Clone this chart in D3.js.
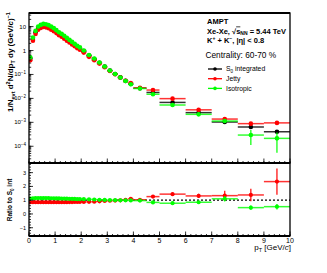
<!DOCTYPE html>
<html><head><meta charset="utf-8">
<script src="https://cdn.jsdelivr.net/npm/d3@7"></script>
<style>body{margin:0;background:#fff} svg{display:block} text{font-family:"Liberation Sans",Arial,sans-serif}</style>
</head><body><svg id="c" width="327" height="273"></svg>
<script>
// ---- data ----
const binEdges = [0,0.1,0.2,0.3,0.4,0.5,0.6,0.7,0.8,0.9,1.0,1.1,1.2,1.3,1.4,1.5,1.6,1.7,1.8,1.9,2.0,2.2,2.4,2.6,2.8,3.0,3.2,3.4,3.6,3.8,4.0,4.5,5,6,7,8,9,10];
const s0Integrated = [0.464,3.04,5.74,8.70,10.26,11.3,10.96,10.0,8.77,7.54,6.28,5.13,4.42,3.66,3.04,2.53,2.08,1.73,1.44,1.25,0.944,0.618,0.445,0.309,0.212,0.1455,0.105,0.0756,0.0539,0.0397,0.0267,0.01774,0.00679,0.00254,0.00103,0.000639,0.000404];
const jetty = [0.395,2.59,4.88,7.40,8.72,9.61,9.31,8.50,7.46,6.41,5.34,4.36,3.76,3.11,2.58,2.17,1.79,1.51,1.25,1.09,0.821,0.544,0.396,0.284,0.199,0.140,0.102,0.0748,0.0550,0.0437,0.0275,0.02235,0.00978,0.00333,0.00137,0.000882,0.000949];
const isotropic = [0.52,3.47,6.6,10.0,11.8,13.0,12.6,11.5,10.0,8.6,7.1,5.8,4.95,4.1,3.37,2.78,2.29,1.89,1.56,1.35,1.01,0.655,0.467,0.318,0.216,0.147,0.105,0.0748,0.0534,0.0389,0.0259,0.0149,0.0053,0.00216,0.00113,0.000294,0.000214];
const errS0 = [0,0,0,0,0,0,0,0,0,0,0,0,0,0,0,0,0,0,0,0,0,0,0,0,0,0,0,0,0,0,0.0005,0.0004,0.0004,0.0002,0.00012,0.0001,0.00008];
const errJetty = [0,0,0,0,0,0,0,0,0,0,0,0,0,0,0,0,0,0,0,0,0,0,0,0,0,0,0,0,0,0,0.0007,0.0008,0.0008,0.0003,0.0002,0.00013,0.00012];
const errIso = [0,0,0,0,0,0,0,0,0,0,0,0,0,0,0,0,0,0,0,0,0,0,0,0,0,0,0,0,0,0,0.0005,0.0005,0.0004,0.0002,0.0002,0.00018,0.00016];
const ratioJetty = [0.85,0.85,0.85,0.85,0.85,0.85,0.85,0.85,0.85,0.85,0.85,0.85,0.85,0.85,0.85,0.86,0.86,0.87,0.87,0.87,0.87,0.88,0.89,0.92,0.94,0.96,0.97,0.99,1.02,1.10,1.03,1.26,1.44,1.31,1.33,1.38,2.35];
const ratioIso = [1.12,1.14,1.15,1.15,1.15,1.15,1.15,1.15,1.14,1.14,1.13,1.13,1.12,1.12,1.11,1.10,1.10,1.09,1.08,1.08,1.07,1.06,1.05,1.03,1.02,1.01,1.00,0.99,0.99,0.98,0.97,0.84,0.78,0.85,1.10,0.46,0.53];
const ratioErrJetty = [0,0,0,0,0,0,0,0,0,0,0,0,0,0,0,0,0,0,0,0,0,0,0,0,0,0,0,0,0,0,0.05,0.06,0.1,0.15,0.35,0.45,0.95];
const ratioErrIso = [0,0,0,0,0,0,0,0,0,0,0,0,0,0,0,0,0,0,0,0,0,0,0,0,0,0,0,0,0,0,0.04,0.05,0.07,0.1,0.2,0.15,0.2];
const xTicks = [0,1,2,3,4,5,6,7,8,9,10];
const yTicksUpper = [1e-4,1e-3,1e-2,1e-1,1,10];
const yTicksLower = [-1,0,1,2,3];
const legendLabels = ["S0 integrated","Jetty","Isotropic"];
const colors = ["#000000","#ff0000","#00ff00"];

// ---- layout ----
const svg = d3.select("#c");
const L = 29, R = 290, T1 = 13, B1 = 163, T2 = 163, B2 = 236;
const x = d3.scaleLinear().domain([0,10]).range([L,R]);
const yU = d3.scaleLog().domain([2e-5,37]).range([B1,T1]);
const yL = d3.scaleLinear().domain([-1.6,3.7]).range([B2,T2]);

const series = [
  {v:s0Integrated, e:errS0, c:colors[0]},
  {v:jetty, e:errJetty, c:colors[1]},
  {v:isotropic, e:errIso, c:colors[2]}
];
const bins = d3.range(binEdges.length-1).map(i=>({lo:binEdges[i],hi:binEdges[i+1],mid:(binEdges[i]+binEdges[i+1])/2}));

svg.append("clipPath").attr("id","cu").append("rect").attr("x",L).attr("y",T1).attr("width",R-L).attr("height",B1-T1);
svg.append("clipPath").attr("id","cl").append("rect").attr("x",L).attr("y",T2).attr("width",R-L).attr("height",B2-T2);

const gU = svg.append("g").attr("clip-path","url(#cu)");
series.forEach(s=>{
  const g = gU.append("g");
  bins.forEach((b,i)=>{
    const yv = yU(s.v[i]);
    g.append("line").attr("x1",x(b.lo)).attr("x2",x(b.hi)).attr("y1",yv).attr("y2",yv)
      .attr("stroke",s.c).attr("stroke-width",1.5).attr("stroke-opacity",0.8);
    if (s.e[i]>0){
      const lo = Math.max(s.v[i]-s.e[i], 1e-6);
      g.append("line").attr("x1",x(b.mid)).attr("x2",x(b.mid)).attr("y1",yU(lo)).attr("y2",yU(s.v[i]+s.e[i]))
        .attr("stroke",s.c).attr("stroke-width",1.2);
    }
    g.append("circle").attr("cx",x(b.mid)).attr("cy",yv).attr("r",2.3).attr("fill",s.c);
  });
});

const gL = svg.append("g").attr("clip-path","url(#cl)");
gL.append("line").attr("x1",L).attr("x2",R).attr("y1",yL(1)).attr("y2",yL(1))
  .attr("stroke","#000").attr("stroke-width",1.3).attr("stroke-dasharray","2,2");
[{v:ratioJetty,e:ratioErrJetty,c:colors[1]},{v:ratioIso,e:ratioErrIso,c:colors[2]}].forEach(s=>{
  const g = gL.append("g");
  bins.forEach((b,i)=>{
    const yv = yL(s.v[i]);
    g.append("line").attr("x1",x(b.lo)).attr("x2",x(b.hi)).attr("y1",yv).attr("y2",yv)
      .attr("stroke",s.c).attr("stroke-width",1.5).attr("stroke-opacity",0.8);
    if (s.e[i]>0){
      g.append("line").attr("x1",x(b.mid)).attr("x2",x(b.mid)).attr("y1",yL(s.v[i]-s.e[i])).attr("y2",yL(s.v[i]+s.e[i]))
        .attr("stroke",s.c).attr("stroke-width",1.2);
    }
    g.append("circle").attr("cx",x(b.mid)).attr("cy",yv).attr("r",2.1).attr("fill",s.c);
  });
});

// frames
svg.append("rect").attr("x",L).attr("y",T1).attr("width",R-L).attr("height",B1-T1).attr("fill","none").attr("stroke","#000").attr("stroke-width",1.3);
svg.append("rect").attr("x",L).attr("y",T2).attr("width",R-L).attr("height",B2-T2).attr("fill","none").attr("stroke","#000").attr("stroke-width",1.3);
svg.append("line").attr("x1",L).attr("x2",R).attr("y1",T1).attr("y2",T1).attr("stroke","#000").attr("stroke-width",2);
svg.append("line").attr("x1",L).attr("x2",R).attr("y1",B1).attr("y2",B1).attr("stroke","#000").attr("stroke-width",2.2);
svg.append("line").attr("x1",L).attr("x2",R).attr("y1",B2).attr("y2",B2).attr("stroke","#000").attr("stroke-width",2);

// ticks
const tk = svg.append("g").attr("stroke","#000").attr("stroke-width",0.8);
const xMinor = d3.range(0,10.001,0.2);
[B1,B2].forEach(yb=>{
  xMinor.forEach(v=>tk.append("line").attr("x1",x(v)).attr("x2",x(v)).attr("y1",yb).attr("y2",yb-2));
  xTicks.forEach(v=>tk.append("line").attr("x1",x(v)).attr("x2",x(v)).attr("y1",yb).attr("y2",yb-4.5));
});
yU.ticks().forEach(v=>{ if(v>=2e-5&&v<=37) tk.append("line").attr("x1",L).attr("x2",L+2.2).attr("y1",yU(v)).attr("y2",yU(v)); });
yTicksUpper.forEach(v=>tk.append("line").attr("x1",L).attr("x2",L+4.5).attr("y1",yU(v)).attr("y2",yU(v)));
d3.range(-1.6,3.701,0.2).forEach(v=>tk.append("line").attr("x1",L).attr("x2",L+2).attr("y1",yL(v)).attr("y2",yL(v)));
yTicksLower.forEach(v=>tk.append("line").attr("x1",L).attr("x2",L+4).attr("y1",yL(v)).attr("y2",yL(v)));

// tick labels
xTicks.forEach(v=>svg.append("text").attr("x",x(v)).attr("y",242.5).attr("text-anchor","middle").attr("font-size",7).text(v));
yTicksUpper.forEach(v=>{
  const e = Math.round(Math.log10(v));
  const t = svg.append("text").attr("x",26).attr("y",yU(v)+2).attr("text-anchor","end").attr("font-size",6);
  if (e===0) t.text("1");
  else if (e===1) t.text("10");
  else { t.append("tspan").text("10"); t.append("tspan").attr("dy",-2.5).attr("font-size",4.5).text(String(e).replace("-","\u2212")); }
});
yTicksLower.forEach(v=>svg.append("text").attr("x",26).attr("y",yL(v)+2).attr("text-anchor","end").attr("font-size",5.5).text(String(v).replace("-","\u2212")));

// axis titles
const yt = svg.append("text").attr("transform","translate(13,62) rotate(-90)").attr("text-anchor","middle").attr("font-size",8).attr("font-weight","bold");
yt.append("tspan").text("1/N");
yt.append("tspan").attr("dy",2).attr("font-size",5.5).text("evt");
yt.append("tspan").attr("dy",-2).text(" d");
yt.append("tspan").attr("dy",-3).attr("font-size",5.5).text("2");
yt.append("tspan").attr("dy",3).text("N/dp");
yt.append("tspan").attr("dy",2).attr("font-size",5.5).text("T");
yt.append("tspan").attr("dy",-2).text(" dy (GeV/");
yt.append("tspan").attr("font-style","italic").text("c");
yt.append("tspan").text(")");
yt.append("tspan").attr("dy",-3).attr("font-size",5.5).text("\u22121");

const rt = svg.append("text").attr("transform","translate(12,200) rotate(-90)").attr("text-anchor","middle").attr("font-size",6.5).attr("font-weight","bold");
rt.append("tspan").text("Ratio to S");
rt.append("tspan").attr("dy",1.8).attr("font-size",4.5).text("0");
rt.append("tspan").attr("dy",-1.8).text(" int");

const xt = svg.append("text").attr("x",291).attr("y",250).attr("text-anchor","end").attr("font-size",8);
xt.append("tspan").text("p");
xt.append("tspan").attr("dy",2).attr("font-size",5.5).text("T");
xt.append("tspan").attr("dy",-2).text(" [GeV/");
xt.append("tspan").attr("font-style","italic").text("c");
xt.append("tspan").text("]");

// header text
svg.append("text").attr("x",207).attr("y",23.5).attr("font-size",7.5).attr("font-weight","bold").text("AMPT");
const h2 = svg.append("text").attr("x",207).attr("y",33.5).attr("font-size",7.5).attr("font-weight","bold");
h2.append("tspan").text("Xe-Xe, \u221A");
h2.append("tspan").attr("text-decoration","overline").text("s");
h2.append("tspan").attr("dy",1.8).attr("font-size",5).text("NN");
h2.append("tspan").attr("dy",-1.8).text(" = 5.44 TeV");
const h3 = svg.append("text").attr("x",207).attr("y",43).attr("font-size",7.5).attr("font-weight","bold");
h3.append("tspan").text("K");
h3.append("tspan").attr("dy",-3).attr("font-size",5).text("+");
h3.append("tspan").attr("dy",3).text(" + K");
h3.append("tspan").attr("dy",-3).attr("font-size",5).text("\u2212");
h3.append("tspan").attr("dy",3).text(", |\u03B7| < 0.8");
svg.append("text").attr("x",205.5).attr("y",58).attr("font-size",8.3).text("Centrality: 60-70 %");

// legend
legendLabels.forEach((lab,i)=>{
  const yy = 69 + i*9.7;
  svg.append("line").attr("x1",208).attr("x2",222).attr("y1",yy).attr("y2",yy).attr("stroke",colors[i]).attr("stroke-width",1.3);
  svg.append("circle").attr("cx",215).attr("cy",yy).attr("r",1.8).attr("fill",colors[i]);
  const t = svg.append("text").attr("x",226).attr("y",yy+2.4).attr("font-size",6.8);
  if (i===0){ t.append("tspan").text("S"); t.append("tspan").attr("dy",1.8).attr("font-size",4.5).text("0"); t.append("tspan").attr("dy",-1.8).text(" integrated"); }
  else t.text(lab);
});
</script></body></html>
